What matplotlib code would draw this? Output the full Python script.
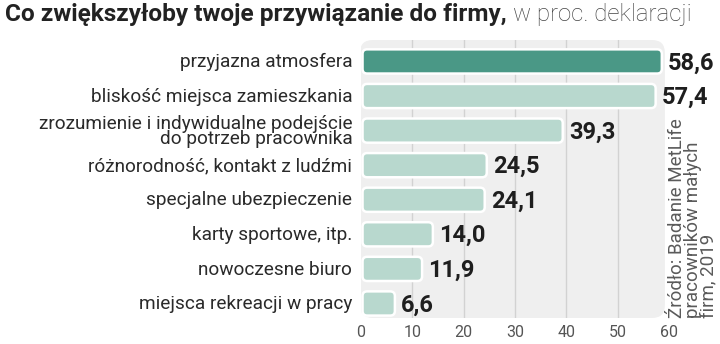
import matplotlib.pyplot as plt
from matplotlib.patches import FancyBboxPatch

categories = [
    "przyjazna atmosfera",
    "bliskość miejsca zamieszkania",
    "zrozumienie i indywidualne podejście\ndo potrzeb pracownika",
    "różnorodność, kontakt z ludźmi",
    "specjalne ubezpieczenie",
    "karty sportowe, itp.",
    "nowoczesne biuro",
    "miejsca rekreacji w pracy",
]
values = [58.6, 57.4, 39.3, 24.5, 24.1, 14.0, 11.9, 6.6]
ticks = [0, 10, 20, 30, 40, 50, 60]

dark = "#4a9886"
light = "#b8d8ce"
bg = "#efefef"

fig = plt.figure(figsize=(7.2, 3.44), dpi=100)
ax = fig.add_axes([361 / 720, 26 / 344, 308 / 720, 278 / 344])
ax.set_xlim(0, 60)
ax.set_ylim(7.42, -0.62)
ax.axis("off")

# px per data unit, used to keep rounded corners circular
px_x = 308 / 60
px_y = 278 / 8.04
asp = px_x / px_y

# grey panel behind the bars
ax.add_patch(FancyBboxPatch((-0.2, -0.62), 59.4, 8.04,
                            boxstyle="round,pad=0,rounding_size=2.5",
                            mutation_aspect=asp, facecolor=bg,
                            edgecolor="none", zorder=0))
for t in ticks[1:-1]:
    ax.plot([t, t], [-0.62, 7.42], color="#d2d2d2", lw=1, zorder=1)

h = 0.7
for i, (cat, v) in enumerate(zip(categories, values)):
    col = dark if i == 0 else light
    ax.add_patch(FancyBboxPatch((0.3, i - h / 2), v - 0.3, h,
                                boxstyle="round,pad=0,rounding_size=0.9",
                                mutation_aspect=asp, facecolor=col,
                                edgecolor="white", lw=1.8, zorder=2))
    ax.text(v + 1.2, i + 0.04, f"{v:.1f}".replace(".", ","), ha="left",
            va="center", fontsize=17, fontweight="bold",
            family="Roboto", color="#1e1e1e")
    ax.text(-1.7, i + 0.02, cat, ha="right", va="center", fontsize=13.7,
            family="Roboto", color="#2a2a2a", multialignment="right",
            linespacing=0.78)

for t in ticks:
    ax.text(t, 7.85, str(t), ha="center", va="center", fontsize=11.5,
            family="Roboto", color="#555555")

t1 = fig.text(5 / 720, 1 - 14 / 344, "Co zwiększyłoby twoje przywiązanie do firmy,",
              ha="left", va="center", fontsize=17.6, fontweight="bold",
              family="Roboto", color="#222222")
fig.canvas.draw()
x1 = t1.get_window_extent().x1 / 720
fig.text(x1 + 6 / 720, 1 - 14 / 344, "w proc. deklaracji", ha="left",
         va="center", fontsize=17.3, family="Roboto", fontweight="light",
         color="#444444")

fig.text(693 / 720, 26 / 344, "Źródło: Badanie MetLife\npracowników małych\nfirm, 2019",
         rotation=90, ha="center", va="bottom", multialignment="left",
         fontsize=13.5, family="Roboto", color="#5a5a5a",
         linespacing=0.84)

fig.savefig("out.png", dpi=100)
